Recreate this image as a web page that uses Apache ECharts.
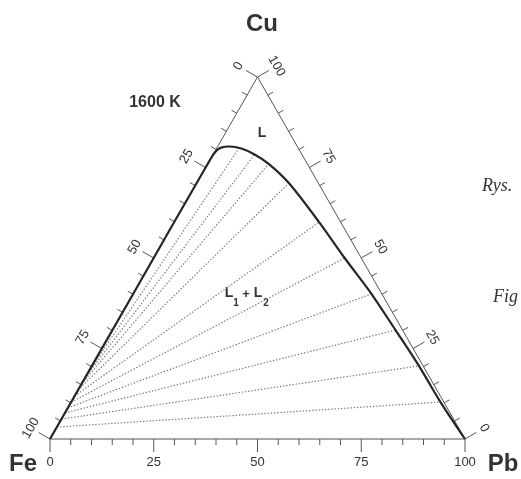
<!DOCTYPE html>
<html><head><meta charset="utf-8">
<script src="https://cdn.jsdelivr.net/npm/echarts@6/dist/echarts.min.js"></script>
<style>html,body{margin:0;padding:0;background:#fff}#c{width:521px;height:479px}</style>
</head><body><div id="c"></div>
<script>
// ---- data (compositions in mole %, Fe = balance) ----
const tickValues = [0,5,10,15,20,25,30,35,40,45,50,55,60,65,70,75,80,85,90,95,100];
const majorTicks = [0,25,50,75,100];
const tickLabels = ['0','25','50','75','100'];
// binodal (miscibility gap boundary) at 1600 K
const binodalPb = [0, 0, 0, 0.3, 1.0, 2.8, 6.0, 10.0, 14.7, 22.2, 34.9, 46.0, 57.4, 68.2, 78.8, 89.0, 100];
const binodalCu = [0, 40, 77.5, 79.6, 80.5, 80.8, 80.25, 78.6, 76.0, 70.7, 59.9, 50.0, 40.1, 30.1, 20.2, 10.2, 0];
// tie lines L1 (Fe-rich) -> L2 (Pb-rich)
const tieLeftPb  = [0, 0, 0, 0, 0, 0, 0, 0, 0, 0];
const tieLeftCu  = [18.5, 16.9, 15.2, 13.5, 11.9, 10.2, 8.6, 7.2, 5.5, 3.3];
const tieRightPb = [5.4, 10.0, 14.7, 22.2, 34.9, 46.0, 57.4, 68.2, 78.8, 89.0];
const tieRightCu = [80.4, 78.6, 76.0, 70.7, 59.9, 50.0, 40.1, 30.1, 20.2, 10.2];

const H = Math.sqrt(3) / 2 * 100;
function toXY(pb, cu) { return [pb + cu / 2, cu * Math.sqrt(3) / 2]; }

// ---- build series data ----
const triangle = [toXY(0,0), toXY(0,100), toXY(100,0), toXY(0,0)];
const binodal = binodalPb.map((p, i) => toXY(p, binodalCu[i]));
const ties = tieLeftPb.map((p, i) => ({ coords: [toXY(p, tieLeftCu[i]), toXY(tieRightPb[i], tieRightCu[i])] }));

// side: 0 bottom (Pb %), 1 left (Fe %), 2 right (Cu %)
function sidePoint(side, v) {
  if (side === 0) return toXY(v, 0);
  if (side === 1) return toXY(0, 100 - v);
  return toXY(100 - v, v);
}
const tickData = [];
[0,1,2].forEach(s => tickValues.forEach(v => {
  const p = sidePoint(s, v);
  tickData.push([p[0], p[1], s, majorTicks.indexOf(v) >= 0 ? 1 : 0]);
}));
const labelData = [];
[0,1,2].forEach(s => majorTicks.forEach((v, i) => {
  const p = sidePoint(s, v);
  labelData.push([p[0], p[1], s, i]);
}));

function frame(api, side) {
  const fe = api.coord(toXY(0,0)), cu = api.coord(toXY(0,100)), pb = api.coord(toXY(100,0));
  let a, b;
  if (side === 1) { a = fe; b = cu; } else if (side === 2) { a = cu; b = pb; } else { a = pb; b = fe; }
  const vx = b[0] - a[0], vy = b[1] - a[1], L = Math.hypot(vx, vy);
  return { nx: vy / L, ny: -vx / L, ang: side === 0 ? 0 : Math.atan2(-vy, vx) };
}

const AX = '#555';
const FONT = '"Liberation Sans", Arial, sans-serif';
const chart = echarts.init(document.getElementById('c'), null, { renderer: 'canvas' });
chart.setOption({
  animation: false,
  backgroundColor: '#fff',
  grid: { left: 50, right: 56, top: 77, bottom: 40 },
  xAxis: { type: 'value', min: 0, max: 100, show: false },
  yAxis: { type: 'value', min: 0, max: H, show: false },
  series: [
    { type: 'line', data: triangle, symbol: 'none', clip: false,
      lineStyle: { color: AX, width: 1 }, z: 2 },
    { type: 'lines', coordinateSystem: 'cartesian2d', data: ties, clip: false,
      lineStyle: { color: '#7a7a7a', width: 1.2, type: [1.4, 1.8], opacity: 1 }, z: 1 },
    { type: 'line', data: binodal, symbol: 'none', smooth: 0.3, clip: false,
      lineStyle: { color: '#262626', width: 2.2 }, z: 3 },
    { type: 'custom', coordinateSystem: 'cartesian2d', data: tickData, clip: false,
      encode: { x: 0, y: 1 }, z: 2,
      renderItem: function (params, api) {
        const p = api.coord([api.value(0), api.value(1)]);
        const f = frame(api, api.value(2));
        const len = api.value(3) ? 13 : 6;
        return { type: 'line', shape: { x1: p[0], y1: p[1], x2: p[0] + f.nx * len, y2: p[1] + f.ny * len },
                 style: { stroke: AX, lineWidth: 1 } };
      } },
    { type: 'custom', coordinateSystem: 'cartesian2d', data: labelData, clip: false,
      encode: { x: 0, y: 1 }, z: 4,
      renderItem: function (params, api) {
        const p = api.coord([api.value(0), api.value(1)]);
        const s = api.value(2);
        const f = frame(api, s);
        const d = s === 0 ? 23 : 22;
        return { type: 'text', x: p[0] + f.nx * d, y: p[1] + f.ny * d, rotation: f.ang,
                 style: { text: tickLabels[api.value(3)], fill: '#333', fontSize: 13,
                          fontFamily: FONT, align: 'center', verticalAlign: 'middle' } };
      } }
  ],
  graphic: [
    { type: 'text', x: 262, y: 24, style: { text: 'Cu', fill: '#333', font: 'bold 24px ' + FONT, align: 'center', verticalAlign: 'middle' } },
    { type: 'text', x: 23, y: 464, style: { text: 'Fe', fill: '#333', font: 'bold 24px ' + FONT, align: 'center', verticalAlign: 'middle' } },
    { type: 'text', x: 503, y: 464, style: { text: 'Pb', fill: '#333', font: 'bold 24px ' + FONT, align: 'center', verticalAlign: 'middle' } },
    { type: 'text', x: 155, y: 103, style: { text: '1600 K', fill: '#333', font: 'bold 16px ' + FONT, align: 'center', verticalAlign: 'middle' } },
    { type: 'text', x: 262, y: 133, style: { text: 'L', fill: '#333', font: 'bold 14px ' + FONT, align: 'center', verticalAlign: 'middle' } },
    { type: 'text', x: 229, y: 293, style: { text: 'L', fill: '#333', font: 'bold 14px ' + FONT, align: 'center', verticalAlign: 'middle' } },
    { type: 'text', x: 236, y: 303, style: { text: '1', fill: '#333', font: 'bold 10px ' + FONT, align: 'center', verticalAlign: 'middle' } },
    { type: 'text', x: 246, y: 294, style: { text: '+', fill: '#333', font: 'bold 13px ' + FONT, align: 'center', verticalAlign: 'middle' } },
    { type: 'text', x: 258, y: 293, style: { text: 'L', fill: '#333', font: 'bold 14px ' + FONT, align: 'center', verticalAlign: 'middle' } },
    { type: 'text', x: 266, y: 303, style: { text: '2', fill: '#333', font: 'bold 10px ' + FONT, align: 'center', verticalAlign: 'middle' } },
    { type: 'text', x: 482, y: 186, style: { text: 'Rys.', fill: '#333', font: 'italic 18px "Liberation Serif", "Times New Roman", serif', align: 'left', verticalAlign: 'middle' } },
    { type: 'text', x: 493, y: 297, style: { text: 'Fig', fill: '#333', font: 'italic 18px "Liberation Serif", "Times New Roman", serif', align: 'left', verticalAlign: 'middle' } }
  ]
});
</script></body></html>
